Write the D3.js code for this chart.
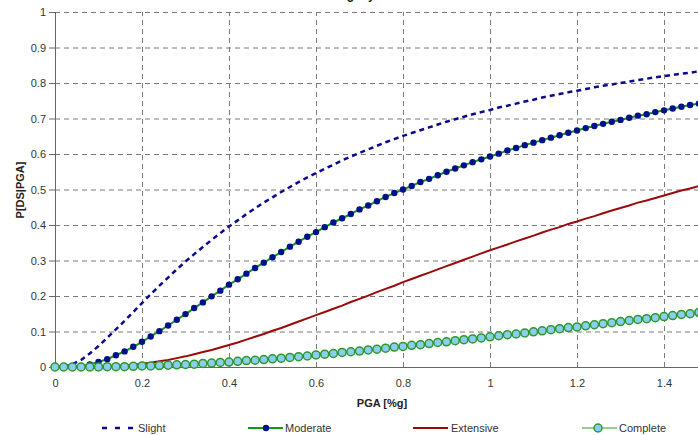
<!DOCTYPE html>
<html>
<head>
<meta charset="utf-8">
<script src="https://cdn.jsdelivr.net/npm/d3@7"></script>
<style>
  body { margin: 0; background: #fff; }
  text { font-family: "Liberation Sans", Arial, sans-serif; }
</style>
</head>
<body>
<div class="canvas"></div>
<script>
// data
const pga = [0, 0.02, 0.04, 0.06, 0.08, 0.1, 0.12, 0.14, 0.16, 0.18, 0.2, 0.22, 0.24, 0.26, 0.28, 0.3, 0.32, 0.34, 0.36, 0.38,
  0.4, 0.42, 0.44, 0.46, 0.48, 0.5, 0.52, 0.54, 0.56, 0.58, 0.6, 0.62, 0.64, 0.66, 0.68, 0.7, 0.72, 0.74, 0.76, 0.78,
  0.8, 0.82, 0.84, 0.86, 0.88, 0.9, 0.92, 0.94, 0.96, 0.98, 1, 1.02, 1.04, 1.06, 1.08, 1.1, 1.12, 1.14, 1.16, 1.18,
  1.2, 1.22, 1.24, 1.26, 1.28, 1.3, 1.32, 1.34, 1.36, 1.38, 1.4, 1.42, 1.44, 1.46, 1.48, 1.5];

const slight = [0, 0.001, 0.008, 0.02, 0.038, 0.059, 0.082, 0.106, 0.13, 0.155, 0.18, 0.205, 0.229, 0.252, 0.275, 0.297, 0.318, 0.338, 0.358, 0.377,
  0.396, 0.413, 0.431, 0.447, 0.463, 0.478, 0.493, 0.507, 0.521, 0.534, 0.546, 0.558, 0.57, 0.582, 0.593, 0.603, 0.613, 0.623, 0.633, 0.642,
  0.651, 0.659, 0.667, 0.675, 0.683, 0.691, 0.698, 0.705, 0.712, 0.718, 0.724, 0.731, 0.736, 0.742, 0.748, 0.753, 0.759, 0.764, 0.769, 0.774,
  0.778, 0.783, 0.788, 0.792, 0.796, 0.8, 0.804, 0.808, 0.812, 0.816, 0.819, 0.823, 0.826, 0.829, 0.833, 0.836];

const moderate = [0, 0, 0.001, 0.003, 0.007, 0.014, 0.022, 0.033, 0.044, 0.057, 0.071, 0.086, 0.101, 0.117, 0.133, 0.149, 0.166, 0.182, 0.199, 0.215,
  0.232, 0.247, 0.263, 0.279, 0.294, 0.309, 0.324, 0.339, 0.353, 0.367, 0.38, 0.394, 0.407, 0.419, 0.431, 0.444, 0.455, 0.467, 0.479, 0.49,
  0.5, 0.51, 0.521, 0.53, 0.54, 0.55, 0.559, 0.568, 0.577, 0.585, 0.593, 0.601, 0.61, 0.617, 0.625, 0.632, 0.639, 0.646, 0.653, 0.66,
  0.666, 0.673, 0.679, 0.685, 0.691, 0.696, 0.702, 0.708, 0.712, 0.718, 0.723, 0.728, 0.733, 0.738, 0.742, 0.747];

const extensive = [0, 0, 0, 0, 0, 0.001, 0.002, 0.003, 0.004, 0.006, 0.009, 0.012, 0.016, 0.02, 0.025, 0.03, 0.036, 0.042, 0.048, 0.055,
  0.062, 0.069, 0.077, 0.085, 0.093, 0.102, 0.11, 0.119, 0.128, 0.137, 0.146, 0.155, 0.164, 0.173, 0.183, 0.192, 0.201, 0.211, 0.22, 0.229,
  0.239, 0.248, 0.257, 0.266, 0.275, 0.284, 0.293, 0.302, 0.311, 0.32, 0.329, 0.337, 0.345, 0.354, 0.362, 0.37, 0.379, 0.387, 0.394, 0.403,
  0.41, 0.418, 0.425, 0.433, 0.441, 0.448, 0.455, 0.463, 0.469, 0.476, 0.483, 0.49, 0.497, 0.503, 0.51, 0.516];

const complete = [0, 0, 0, 0, 0, 0, 0.001, 0.001, 0.001, 0.002, 0.003, 0.003, 0.004, 0.005, 0.006, 0.007, 0.008, 0.01, 0.011, 0.013,
  0.014, 0.016, 0.018, 0.019, 0.021, 0.023, 0.025, 0.027, 0.029, 0.031, 0.034, 0.036, 0.038, 0.041, 0.043, 0.045, 0.048, 0.05, 0.053, 0.056,
  0.058, 0.061, 0.063, 0.066, 0.069, 0.071, 0.074, 0.077, 0.079, 0.082, 0.085, 0.088, 0.091, 0.093, 0.096, 0.099, 0.102, 0.105, 0.108, 0.111,
  0.113, 0.116, 0.119, 0.122, 0.125, 0.128, 0.131, 0.134, 0.136, 0.139, 0.142, 0.145, 0.148, 0.15, 0.154, 0.156];

const xTicks = [0, 0.2, 0.4, 0.6, 0.8, 1, 1.2, 1.4];
const yTicks = [0, 0.1, 0.2, 0.3, 0.4, 0.5, 0.6, 0.7, 0.8, 0.9, 1];
const seriesNames = ["Slight", "Moderate", "Extensive", "Complete"];

const width = 698;
const height = 435;
const margin = { top: 12, right: 0, bottom: 68, left: 55 };
const graphWidth = width - margin.left - margin.right;
const graphHeight = height - margin.top - margin.bottom;

const svg = d3
  .select(".canvas")
  .append("svg")
  .attr("width", width)
  .attr("height", height);

// title, mostly off the top edge
svg
  .append("text")
  .attr("x", 328)
  .attr("y", -1)
  .attr("font-size", 12)
  .attr("font-weight", "bold")
  .attr("fill", "#222")
  .text("Fragility Curves");

const graph = svg
  .append("g")
  .attr("transform", `translate(${margin.left}, ${margin.top})`);

// scales
const x = d3.scaleLinear().domain([0, graphWidth / 435]).range([0, graphWidth]);
const y = d3.scaleLinear().domain([0, 1]).range([graphHeight, 0]);

// grid
const gridY = graph
  .append("g")
  .call(d3.axisLeft(y).tickValues(yTicks.slice(1)).tickSize(-graphWidth).tickFormat(""));
const gridX = graph
  .append("g")
  .attr("transform", `translate(0, ${graphHeight})`)
  .call(d3.axisBottom(x).tickValues(xTicks.slice(1)).tickSize(-graphHeight).tickFormat(""));
[gridY, gridX].forEach((g) => {
  g.select(".domain").remove();
  g.selectAll("line")
    .attr("stroke", "#7a7a7a")
    .attr("stroke-dasharray", "5,4");
});

// axes
const yAxisGroup = graph
  .append("g")
  .call(d3.axisLeft(y).tickValues(yTicks).tickSize(6).tickPadding(3).tickFormat((d) => d));
const xAxisGroup = graph
  .append("g")
  .attr("transform", `translate(0, ${graphHeight})`)
  .call(d3.axisBottom(x).tickValues(xTicks).tickSize(0).tickPadding(12).tickFormat((d) => d));
[yAxisGroup, xAxisGroup].forEach((g) => {
  g.select(".domain").attr("stroke", "#666");
  g.selectAll("line").attr("stroke", "#666");
  g.selectAll("text")
    .attr("font-family", "Liberation Sans, Arial, sans-serif")
    .attr("font-size", 11)
    .attr("fill", "#333");
});
xAxisGroup.select(".domain").attr("d", `M0,0.5H${graphWidth}`);

// axis titles
svg
  .append("text")
  .attr("transform", "translate(24, 190) rotate(-90)")
  .attr("text-anchor", "middle")
  .attr("font-size", 11)
  .attr("font-weight", "bold")
  .attr("fill", "#222")
  .text("P[DS|PGA]");

svg
  .append("text")
  .attr("x", 382)
  .attr("y", 407)
  .attr("text-anchor", "middle")
  .attr("font-size", 11)
  .attr("font-weight", "bold")
  .attr("fill", "#222")
  .text("PGA [%g]");

// line generator
const line = (vals) =>
  d3
    .line()
    .x((d, i) => x(pga[i]))
    .y((d) => y(d))(vals);

// slight
graph
  .append("path")
  .attr("d", line(slight))
  .attr("fill", "none")
  .attr("stroke", "#0a0a8c")
  .attr("stroke-width", 2.5)
  .attr("stroke-dasharray", "5,4");

// moderate
graph
  .append("path")
  .attr("d", line(moderate))
  .attr("fill", "none")
  .attr("stroke", "#109a10")
  .attr("stroke-width", 2);
graph
  .append("g")
  .selectAll("circle")
  .data(moderate)
  .enter()
  .append("circle")
  .attr("cx", (d, i) => x(pga[i]))
  .attr("cy", (d) => y(d))
  .attr("r", 3.2)
  .attr("fill", "#00108a");

// extensive
graph
  .append("path")
  .attr("d", line(extensive))
  .attr("fill", "none")
  .attr("stroke", "#9a0a0a")
  .attr("stroke-width", 2);

// complete
graph
  .append("path")
  .attr("d", line(complete))
  .attr("fill", "none")
  .attr("stroke", "#2a9a2a")
  .attr("stroke-width", 1.5);
graph
  .append("g")
  .selectAll("circle")
  .data(complete)
  .enter()
  .append("circle")
  .attr("cx", (d, i) => x(pga[i]))
  .attr("cy", (d) => y(d))
  .attr("r", 4)
  .attr("fill", "#8ecdf3")
  .attr("stroke", "#2a9a2a")
  .attr("stroke-width", 1.5);

// legend
const legend = svg.append("g").attr("transform", "translate(0, 428)");
const legendX = [102, 248, 413, 582];

legend
  .append("line")
  .attr("x1", legendX[0]).attr("x2", legendX[0] + 31)
  .attr("stroke", "#0a0a8c").attr("stroke-width", 2.5)
  .attr("stroke-dasharray", "5,8");

legend
  .append("line")
  .attr("x1", legendX[1]).attr("x2", legendX[1] + 35)
  .attr("stroke", "#109a10").attr("stroke-width", 2);
legend
  .append("circle")
  .attr("cx", legendX[1] + 18).attr("r", 3.2).attr("fill", "#00108a");

legend
  .append("line")
  .attr("x1", legendX[2]).attr("x2", legendX[2] + 35)
  .attr("stroke", "#9a0a0a").attr("stroke-width", 2);

legend
  .append("line")
  .attr("x1", legendX[3]).attr("x2", legendX[3] + 35)
  .attr("stroke", "#6cc06c").attr("stroke-width", 1.5);
legend
  .append("circle")
  .attr("cx", legendX[3] + 16).attr("r", 4)
  .attr("fill", "#8ecdf3").attr("stroke", "#2a9a2a").attr("stroke-width", 1.5);

const labelX = [138, 285, 451, 619];
legend
  .selectAll(".label")
  .data(seriesNames)
  .enter()
  .append("text")
  .attr("class", "label")
  .attr("x", (d, i) => labelX[i])
  .attr("y", 4)
  .attr("font-size", 11)
  .attr("fill", "#333")
  .text((d) => d);
</script>
</body>
</html>
